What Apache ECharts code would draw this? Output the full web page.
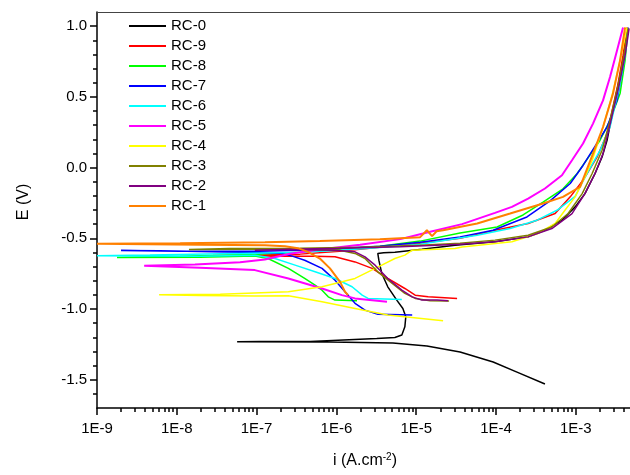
<!DOCTYPE html>
<html><head><meta charset="utf-8">
<script src="https://cdn.jsdelivr.net/npm/echarts@6/dist/echarts.min.js"></script>
<style>html,body{margin:0;padding:0;background:#fff}#c{width:630px;height:475px}</style>
</head><body><div id="c"></div>
<script>
const seriesNames = ['RC-0','RC-9','RC-8','RC-7','RC-6','RC-5','RC-4','RC-3','RC-2','RC-1'];
const seriesColors = ['#000000','#FF0000','#00FF00','#0000FF','#00FFFF','#FF00FF','#FFFF00','#808000','#800080','#FF8000'];

// [current density (A/cm2), potential (V)] in scan order: cathodic end -> Ecorr -> anodic end
const rc0 = [[4.1e-4,-1.530],[1.83e-4,-1.446],[9.2e-5,-1.375],[3.54e-5,-1.304],[1.36e-5,-1.262],[5.1e-6,-1.240],[8.3e-7,-1.233],[5.7e-8,-1.232],
  [1.1e-7,-1.230],[4.7e-7,-1.230],[3.2e-6,-1.208],[5.4e-6,-1.201],[6.6e-6,-1.184],[7.2e-6,-1.126],[7.4e-6,-1.055],[6.8e-6,-0.996],[5.7e-6,-0.937],[4.4e-6,-0.843],[3.7e-6,-0.749],[3.4e-6,-0.655],[3.3e-6,-0.607],[3.9e-6,-0.602],[5.4e-6,-0.598],[1.18e-5,-0.577],[3.06e-5,-0.549],[9.7e-5,-0.525],[2.52e-4,-0.490],[4.1e-4,-0.443],[6.7e-4,-0.372],[9.8e-4,-0.278],[1.30e-3,-0.184],[1.74e-3,-0.042],[2.13e-3,0.075],[2.46e-3,0.193],[2.92e-3,0.405],[3.48e-3,0.617],[4.02e-3,0.793],[4.51e-3,0.984]];
const rc9 = [[3.25e-5,-0.925],[1.41e-5,-0.914],[9.7e-6,-0.902],[7.2e-6,-0.855],[4.4e-6,-0.784],[2.8e-6,-0.713],[1.71e-6,-0.667],[9.6e-7,-0.631],[5.4e-7,-0.627],[1.96e-7,-0.627],[2.84e-8,-0.621],
  [1.1e-7,-0.619],[3.5e-7,-0.612],[1.1e-6,-0.591],[3.5e-6,-0.563],[1.12e-5,-0.535],[3.54e-5,-0.500],[9.7e-5,-0.443],[2.52e-4,-0.395],[5.5e-4,-0.325],[8.5e-4,-0.207],[1.23e-3,-0.090],[1.85e-3,0.075],[2.46e-3,0.240],[3.38e-3,0.593],[3.90e-3,0.793],[4.39e-3,0.991]];
const rc8 = [[1.81e-6,-0.941],[9.6e-7,-0.937],[7.9e-7,-0.914],[6.6e-7,-0.867],[5.4e-7,-0.831],[4.0e-7,-0.784],[2.5e-7,-0.713],[1.39e-7,-0.643],[9.5e-8,-0.625],[1.95e-8,-0.634],[1.78e-9,-0.636],
  [1.1e-8,-0.627],[1.1e-7,-0.612],[3.5e-7,-0.598],[1.1e-6,-0.577],[3.5e-6,-0.556],[1.12e-5,-0.520],[3.54e-5,-0.462],[1.03e-4,-0.420],[2.18e-4,-0.335],[3.88e-4,-0.245],[6.9e-4,-0.150],[1.04e-3,-0.042],[1.51e-3,0.090],[2.01e-3,0.193],[2.68e-3,0.334],[3.58e-3,0.523],[4.14e-3,0.758],[4.51e-3,0.984]];
const rc7 = [[8.9e-6,-1.043],[3.3e-6,-1.038],[2.28e-6,-1.008],[1.71e-6,-0.960],[1.28e-6,-0.878],[9.6e-7,-0.796],[6.6e-7,-0.713],[4.0e-7,-0.655],[2.8e-7,-0.626],[1.96e-7,-0.605],[6.2e-8,-0.598],[6.1e-9,-0.588],[2.0e-9,-0.586],
  [1.1e-8,-0.591],[1.1e-7,-0.591],[3.5e-7,-0.584],[1.1e-6,-0.570],[3.5e-6,-0.556],[1.12e-5,-0.528],[3.54e-5,-0.490],[9.2e-5,-0.443],[2.44e-4,-0.349],[4.75e-4,-0.235],[8.5e-4,-0.113],[1.23e-3,0.015],[1.85e-3,0.175],[2.46e-3,0.287],[3.28e-3,0.475],[3.90e-3,0.710],[4.51e-3,0.991]];
const rc6 = [[6.6e-6,-0.932],[2.49e-6,-0.925],[2.1e-6,-0.902],[1.57e-6,-0.843],[9.6e-7,-0.784],[5.4e-7,-0.737],[3.03e-7,-0.690],[1.7e-7,-0.643],[9.5e-8,-0.620],[1.95e-8,-0.627],[1.0e-9,-0.624],
  [4.6e-9,-0.619],[8.3e-8,-0.605],[3.5e-7,-0.598],[1.1e-6,-0.584],[3.5e-6,-0.566],[1.12e-5,-0.542],[5.8e-5,-0.478],[1.5e-4,-0.431],[3.27e-4,-0.372],[5.8e-4,-0.302],[9.8e-4,-0.203],[1.38e-3,-0.042],[2.01e-3,0.122],[2.68e-3,0.287],[3.58e-3,0.593],[4.14e-3,0.793],[4.51e-3,0.984]];
const rc5 = [[4.3e-6,-0.949],[1.71e-6,-0.925],[1.17e-6,-0.902],[6.6e-7,-0.855],[2.5e-7,-0.784],[9.5e-8,-0.725],[1.95e-8,-0.708],[3.9e-9,-0.695],
  [1.69e-8,-0.685],[6.2e-8,-0.669],[1.27e-7,-0.650],[2.6e-7,-0.610],[6.2e-7,-0.580],[1.98e-6,-0.545],[6.3e-6,-0.506],[1.41e-5,-0.457],[3.75e-5,-0.400],[9.7e-5,-0.320],[1.58e-4,-0.278],[2.52e-4,-0.219],[4.1e-4,-0.148],[6.7e-4,-0.054],[8.95e-4,0.052],[1.23e-3,0.170],[1.64e-3,0.311],[2.19e-3,0.475],[2.68e-3,0.640],[3.28e-3,0.828],[3.90e-3,0.991]];
const rc4 = [[2.17e-5,-1.083],[4.4e-6,-1.043],[1.71e-6,-0.996],[6.6e-7,-0.949],[2.5e-7,-0.907],[9.5e-8,-0.908],[1.95e-8,-0.905],[6.0e-9,-0.900],
  [3.5e-8,-0.895],[2.5e-7,-0.878],[6.6e-7,-0.843],[1.71e-6,-0.784],[3.7e-6,-0.690],[5.4e-6,-0.643],[7.2e-6,-0.619],[8.9e-6,-0.584],[3.06e-5,-0.572],[3.75e-5,-0.561],[1.58e-4,-0.525],[3.36e-4,-0.466],[5.5e-4,-0.395],[7.3e-4,-0.302],[9.8e-4,-0.207],[1.30e-3,-0.066],[1.60e-3,0.052],[2.13e-3,0.263],[2.84e-3,0.511],[3.58e-3,0.758],[4.39e-3,0.991]];
const rc3 = [[2.58e-5,-0.944],[1.49e-5,-0.941],[9.7e-6,-0.925],[7.2e-6,-0.890],[5.0e-6,-0.819],[3.3e-6,-0.737],[2.28e-6,-0.643],[1.71e-6,-0.607],[1.1e-6,-0.584],[3.5e-7,-0.577],[6.2e-8,-0.577],[1.42e-8,-0.579],
  [4.6e-8,-0.573],[3.5e-7,-0.570],[1.98e-6,-0.563],[1.12e-5,-0.549],[3.54e-5,-0.535],[9.7e-5,-0.513],[2.52e-4,-0.478],[5.0e-4,-0.420],[8.0e-4,-0.325],[1.2e-3,-0.184],[1.60e-3,-0.042],[2.13e-3,0.122],[2.68e-3,0.334],[3.38e-3,0.581],[4.02e-3,0.793],[4.51e-3,0.984]];
const rc2 = [[2.5e-5,-0.942],[1.82e-5,-0.937],[1.18e-5,-0.937],[8.9e-6,-0.914],[6.6e-6,-0.867],[4.4e-6,-0.784],[3.05e-6,-0.690],[2.28e-6,-0.631],[1.71e-6,-0.596],[9.6e-7,-0.584],[3.5e-7,-0.580],[9.5e-8,-0.584],
  [2.6e-7,-0.577],[1.1e-6,-0.570],[6.3e-6,-0.559],[3.54e-5,-0.542],[9.7e-5,-0.525],[2.52e-4,-0.490],[5.0e-4,-0.431],[8.95e-4,-0.325],[1.30e-3,-0.184],[1.74e-3,-0.042],[2.19e-3,0.099],[2.76e-3,0.334],[3.48e-3,0.581],[4.14e-3,0.793],[4.65e-3,0.984]];
const rc1 = [[1.4e-6,-0.902],[1.28e-6,-0.878],[1.11e-6,-0.808],[8.3e-7,-0.713],[6.2e-7,-0.643],[4.4e-7,-0.596],[3.3e-7,-0.570],[2.27e-7,-0.556],[1.27e-7,-0.549],[1.95e-8,-0.545],[1.0e-9,-0.538],
  [1.1e-8,-0.535],[1.27e-7,-0.528],[6.2e-7,-0.520],[3.5e-6,-0.506],[1.12e-5,-0.492],[1.36e-5,-0.443],[1.58e-5,-0.485],[1.8e-5,-0.450],[2.17e-5,-0.443],[5.8e-5,-0.395],[1.5e-4,-0.325],[3.88e-4,-0.254],[6.9e-4,-0.207],[1.13e-3,-0.137],[1.64e-3,0.099],[2.19e-3,0.287],[2.92e-3,0.523],[3.58e-3,0.758],[4.14e-3,0.991]];

const seriesData = [rc0, rc9, rc8, rc7, rc6, rc5, rc4, rc3, rc2, rc1];

const xMin = 1e-9, xMax = 5.2e-3;
const xMajorTicks = [1e-9,1e-8,1e-7,1e-6,1e-5,1e-4,1e-3];
const xMinorMultipliers = [2,3,4,5,6,7,8,9];
const yMin = -1.7, yMax = 1.1;
const yMajorTicks = [-1.5,-1.0,-0.5,0.0,0.5,1.0];
const yMinorTicks = [-1.6,-1.4,-1.3,-1.2,-1.1,-0.9,-0.8,-0.7,-0.6,-0.4,-0.3,-0.2,-0.1,0.1,0.2,0.3,0.4,0.6,0.7,0.8,0.9];

const xMinorTicks = [];
xMajorTicks.forEach(m => xMinorMultipliers.forEach(k => { const v = k * m; if (v < xMax) xMinorTicks.push(v); }));

const FONT = "'Liberation Sans', Arial, sans-serif";
const chart = echarts.init(document.getElementById('c'), null, {renderer: 'canvas'});

const option = {
  animation: false,
  backgroundColor: '#fff',
  grid: {left: 97, right: -3, top: 12, bottom: 67, containLabel: false, outerBoundsMode: 'none'},
  legend: {
    orient: 'vertical', left: 129, top: 18.5, padding: 0, icon: 'rect', itemWidth: 37, itemHeight: 2, itemGap: 5,
    selectedMode: false, data: seriesNames,
    textStyle: {fontSize: 15, lineHeight: 15, color: '#000', fontFamily: FONT}
  },
  xAxis: [{
    type: 'log', logBase: 10, min: xMin, max: xMax, position: 'bottom',
    name: 'i (A.cm{sup|-2})', nameLocation: 'middle', nameGap: 44,
    nameTextStyle: {fontSize: 16, lineHeight: 18, color: '#000', fontFamily: FONT,
      rich: {sup: {fontSize: 10, lineHeight: 10, verticalAlign: 'top', color: '#000', fontFamily: FONT}}},
    axisLine: {show: true, onZero: false, lineStyle: {color: '#000', width: 1.5}},
    axisTick: {show: true, inside: false, length: 7, customValues: xMajorTicks, lineStyle: {color: '#000', width: 1.5}},
    axisLabel: {show: true, customValues: xMajorTicks, margin: 13, fontSize: 15, color: '#000', fontFamily: FONT,
      formatter: v => '1E' + Math.round(Math.log10(v))},
    splitLine: {show: false}, minorTick: {show: false}
  }, {
    type: 'log', logBase: 10, min: xMin, max: xMax, gridIndex: 0, position: 'bottom',
    axisLine: {show: false, onZero: false},
    axisTick: {show: true, inside: false, length: 4, customValues: xMinorTicks, lineStyle: {color: '#000', width: 1.5}},
    axisLabel: {show: false}, splitLine: {show: false}
  }, {
    type: 'log', logBase: 10, min: xMin, max: xMax, gridIndex: 0, position: 'top',
    axisLine: {show: true, onZero: false, lineStyle: {color: '#444', width: 1.2}},
    axisTick: {show: false}, axisLabel: {show: false}, splitLine: {show: false}
  }],
  yAxis: [{
    type: 'value', min: yMin, max: yMax, position: 'left',
    axisLine: {show: true, onZero: false, lineStyle: {color: '#000', width: 1.5}},
    axisTick: {show: true, inside: false, length: 7, customValues: yMajorTicks, lineStyle: {color: '#000', width: 1.5}},
    axisLabel: {show: true, customValues: yMajorTicks, margin: 10, fontSize: 15, color: '#000', fontFamily: FONT,
      formatter: v => v.toFixed(1)},
    splitLine: {show: false}
  }, {
    type: 'value', min: yMin, max: yMax, position: 'left',
    axisLine: {show: false, onZero: false},
    axisTick: {show: true, inside: false, length: 4, customValues: yMinorTicks, lineStyle: {color: '#000', width: 1.5}},
    axisLabel: {show: false}, splitLine: {show: false}
  }],
  graphic: [{
    type: 'text', x: 24, y: 202, rotation: Math.PI / 2, silent: true,
    style: {text: 'E (V)', fontSize: 16, fontFamily: FONT, fill: '#000', textAlign: 'center', textVerticalAlign: 'middle'}
  }],
  series: seriesNames.map((name, idx) => ({
    name: name, type: 'line', xAxisIndex: 0, yAxisIndex: 0,
    data: seriesData[idx], showSymbol: false, symbol: 'none', smooth: false, clip: true,
    color: seriesColors[idx],
    lineStyle: {color: seriesColors[idx], width: (name === 'RC-1' || name === 'RC-5') ? 2 : 1.5},
    emphasis: {disabled: true}
  }))
};
chart.setOption(option);
</script>
</body></html>
